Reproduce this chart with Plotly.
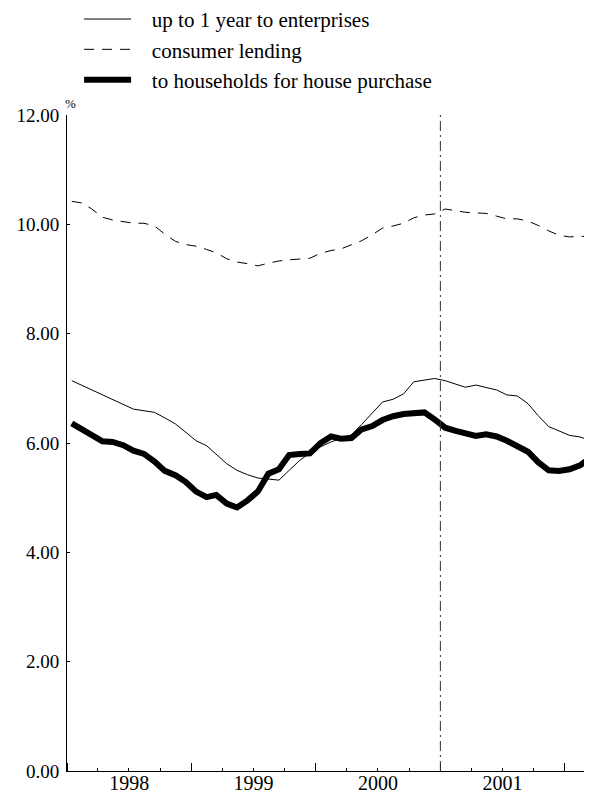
import pandas as pd
import plotly.graph_objects as go

# monthly observations, Jan 1998 - Mar 2002
months = pd.date_range("1998-01-01", periods=51, freq="MS") + pd.Timedelta(days=14)

enterprises = [7.14, 7.05, 6.96, 6.87, 6.79, 6.70, 6.62, 6.59, 6.56, 6.46,
               6.35, 6.20, 6.04, 5.95, 5.80, 5.62, 5.50, 5.42, 5.36, 5.34,
               5.32, 5.50, 5.68, 5.82, 5.93, 6.02, 6.08, 6.15, 6.34, 6.55,
               6.75, 6.80, 6.90, 7.12, 7.15, 7.18, 7.14, 7.07, 7.02, 7.06,
               7.02, 6.97, 6.88, 6.86, 6.72, 6.50, 6.30, 6.22, 6.14, 6.11,
               6.05]

consumer = [10.42, 10.39, 10.28, 10.13, 10.08, 10.05, 10.02, 10.02, 9.97, 9.82,
            9.69, 9.63, 9.60, 9.54, 9.48, 9.37, 9.31, 9.28, 9.24, 9.29,
            9.33, 9.35, 9.36, 9.38, 9.47, 9.52, 9.55, 9.62, 9.70, 9.81,
            9.93, 9.97, 10.02, 10.12, 10.17, 10.19, 10.28, 10.25, 10.22, 10.21,
            10.20, 10.15, 10.10, 10.10, 10.06, 9.98, 9.88, 9.80, 9.77, 9.78,
            9.78]

house = [6.36, 6.25, 6.14, 6.03, 6.02, 5.96, 5.86, 5.80, 5.66, 5.49,
         5.41, 5.29, 5.11, 5.01, 5.05, 4.89, 4.82, 4.95, 5.11, 5.44,
         5.52, 5.78, 5.80, 5.81, 6.00, 6.12, 6.08, 6.09, 6.25, 6.31,
         6.42, 6.49, 6.53, 6.55, 6.56, 6.43, 6.28, 6.22, 6.17, 6.13,
         6.16, 6.12, 6.04, 5.95, 5.84, 5.65, 5.50, 5.49, 5.52, 5.59,
         5.72]

FONT = "Liberation Serif, Times New Roman, serif"
PAD = "\u00a0\u00a0\u00a0"  # gap between legend sample and label

fig = go.Figure()
fig.add_trace(go.Scatter(x=months, y=enterprises, mode="lines", name=PAD + "up to 1 year to enterprises",
                         legendgroup="a", line=dict(color="black", width=1)))
fig.add_trace(go.Scatter(x=months, y=consumer, mode="lines", name=PAD + "consumer lending",
                         legendgroup="b", line=dict(color="black", width=1, dash="10px,8px")))
fig.add_trace(go.Scatter(x=months, y=house, mode="lines", name=PAD + "to households for house purchase",
                         legendgroup="c", line=dict(color="black", width=6)))

# vertical marker at January 2001
fig.add_shape(type="line", xref="x", yref="y", x0="2001-01-01", x1="2001-01-01", y0=0, y1=12,
              line=dict(color="#333333", width=1, dash="10px,4px,2px,4px"))

fig.add_annotation(text="%", xref="paper", yref="paper", x=0, y=1, xanchor="center", yanchor="middle",
                   xshift=3, yshift=12, showarrow=False, font=dict(family=FONT, size=13, color="black"))

# page body keeps its default 8px margin, so the figure is sized to end at the window edge
fig.update_layout(
    template="none",
    width=584, height=786,
    margin=dict(l=59, r=0, t=107, b=23, autoexpand=False),
    paper_bgcolor="white", plot_bgcolor="white",
    font=dict(family=FONT, size=19, color="black"),
    showlegend=True,
    legend=dict(x=0.023, y=1.177, xanchor="left", yanchor="top", bgcolor="rgba(0,0,0,0)",
                tracegroupgap=0, itemwidth=47, font=dict(family=FONT, size=21, color="black")),
    xaxis=dict(type="date", range=["1998-01-01", "2002-03-22"], showgrid=False, zeroline=False,
               showline=True, linecolor="black", linewidth=1,
               tick0="1998-01-01", dtick="M12", tickformat="%Y", ticklabelmode="period",
               ticks="inside", ticklen=8, tickcolor="black", automargin=False,
               ticklabelstandoff=-6, tickfont=dict(family=FONT, size=20),
               minor=dict(dtick="M3", tick0="1998-01-01", ticks="inside", ticklen=3,
                          tickcolor="black", showgrid=False)),
    yaxis=dict(range=[0, 12], dtick=2, tickformat=".2f", showgrid=False, zeroline=False,
               showline=True, linecolor="black", linewidth=1,
               ticks="inside", ticklen=3, tickcolor="black", automargin=False,
               ticklabelstandoff=3),
)

fig.write_html("out.html")
